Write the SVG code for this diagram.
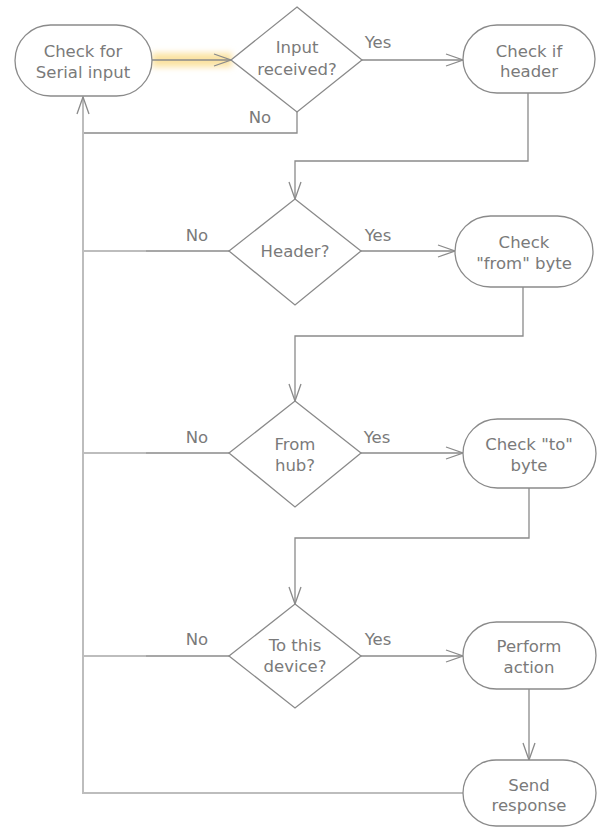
<svg xmlns="http://www.w3.org/2000/svg" width="597" height="827" viewBox="0 0 597 827">
<defs>
<style>
.shape{fill:#ffffff;stroke:#8a8a8a;stroke-width:1.3}
.ln{fill:none;stroke:#8a8a8a;stroke-width:1.3}
.lt{fill:none;stroke:#bdbdbd;stroke-width:2}
.t{font-family:"DejaVu Sans","Liberation Sans",sans-serif;font-size:16.5px;fill:#7a7a7a;text-anchor:middle}
</style>
<marker id="arr" markerUnits="userSpaceOnUse" markerWidth="20" markerHeight="16" viewBox="-18 -8 20 16" refX="0" refY="0" orient="auto">
<path d="M-17,-6 L0,0 L-17,6" fill="none" stroke="#8a8a8a" stroke-width="1.3"/>
</marker>
<filter id="glow" x="-20%" y="-100%" width="140%" height="300%">
<feGaussianBlur stdDeviation="3"/>
</filter>
</defs>
<rect width="597" height="827" fill="#ffffff"/>
<rect x="152" y="53" width="80" height="14" fill="#fbe2a0" filter="url(#glow)"/>
<g id="connectors">
<line class="ln" x1="152" y1="60" x2="231" y2="60" marker-end="url(#arr)"/>
<line class="ln" x1="362" y1="60" x2="463" y2="60" marker-end="url(#arr)"/>
<polyline class="ln" points="297,112 297,133 83,133"/>
<polyline class="lt" points="463,793 83,793 83,133"/>
<line class="lt" x1="83" y1="133" x2="83" y2="97" marker-end="url(#arr)"/>
<polyline class="ln" points="528,93 528,161 295,161 295,199" marker-end="url(#arr)"/>
<line class="lt" x1="83" y1="251" x2="146" y2="251"/>
<line class="ln" x1="146" y1="251" x2="229" y2="251"/>
<line class="ln" x1="361" y1="251" x2="455" y2="251" marker-end="url(#arr)"/>
<polyline class="ln" points="523,287 523,336 295,336 295,401" marker-end="url(#arr)"/>
<line class="lt" x1="83" y1="453" x2="146" y2="453"/>
<line class="ln" x1="146" y1="453" x2="229" y2="453"/>
<line class="ln" x1="361" y1="453" x2="463" y2="453" marker-end="url(#arr)"/>
<polyline class="ln" points="529,488 529,538 295,538 295,604" marker-end="url(#arr)"/>
<line class="lt" x1="83" y1="656" x2="146" y2="656"/>
<line class="ln" x1="146" y1="656" x2="229" y2="656"/>
<line class="ln" x1="361" y1="656" x2="463" y2="656" marker-end="url(#arr)"/>
<line class="ln" x1="529" y1="689" x2="529" y2="760" marker-end="url(#arr)"/>
<text class="t" x="378" y="48">Yes</text>
<text class="t" x="260" y="123">No</text>
<text class="t" x="197" y="241">No</text>
<text class="t" x="378" y="241">Yes</text>
<text class="t" x="197" y="443">No</text>
<text class="t" x="377" y="443">Yes</text>
<text class="t" x="197" y="645">No</text>
<text class="t" x="378" y="645">Yes</text>
</g>
<g id="n1">
<rect class="shape" x="15" y="25" width="137" height="71" rx="35.5"/>
<text class="t" x="83" y="57">Check for</text>
<text class="t" x="83" y="78">Serial input</text>
</g>
<g id="d1">
<polygon class="shape" points="297,7 362,60 297,112 231,60"/>
<text class="t" x="297" y="53">Input</text>
<text class="t" x="297" y="75">received?</text>
</g>
<g id="n2">
<rect class="shape" x="463" y="25" width="132" height="68" rx="34"/>
<text class="t" x="529" y="57">Check if</text>
<text class="t" x="529" y="77">header</text>
</g>
<g id="d2">
<polygon class="shape" points="295,199 361,251 295,305 229,251"/>
<text class="t" x="295" y="257">Header?</text>
</g>
<g id="n3">
<rect class="shape" x="455" y="216" width="138" height="71" rx="35.5"/>
<text class="t" x="524" y="248">Check</text>
<text class="t" x="524" y="269">"from" byte</text>
</g>
<g id="d3">
<polygon class="shape" points="295,401 361,453 295,507 229,453"/>
<text class="t" x="295" y="450">From</text>
<text class="t" x="295" y="471">hub?</text>
</g>
<g id="n4">
<rect class="shape" x="463" y="419" width="133" height="69" rx="34.5"/>
<text class="t" x="529" y="450">Check "to"</text>
<text class="t" x="529" y="471">byte</text>
</g>
<g id="d4">
<polygon class="shape" points="295,604 361,656 295,708 229,656"/>
<text class="t" x="295" y="651">To this</text>
<text class="t" x="295" y="672">device?</text>
</g>
<g id="n5">
<rect class="shape" x="463" y="622" width="133" height="67" rx="33.5"/>
<text class="t" x="529" y="652">Perform</text>
<text class="t" x="529" y="673">action</text>
</g>
<g id="n6">
<rect class="shape" x="463" y="760" width="133" height="66" rx="33"/>
<text class="t" x="529" y="791">Send</text>
<text class="t" x="529" y="811">response</text>
</g>
</svg>
